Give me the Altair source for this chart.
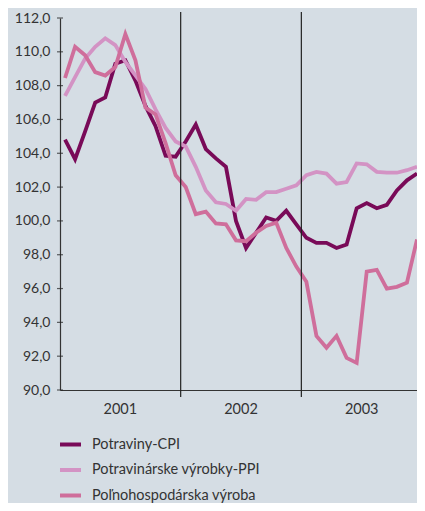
import altair as alt
import pandas as pd

# ---- data -------------------------------------------------------------
series_names = ["Potraviny-CPI", "Potravinárske výrobky-PPI", "Poľnohospodárska výroba"]
series_colors = ["#790a58", "#d393c4", "#cf6e9b"]
cpi = [104.8, 103.65, 105.3, 107.0, 107.3, 109.3, 109.5, 108.3, 106.8, 105.6, 103.85, 103.8,
       104.7, 105.7, 104.25, 103.7, 103.2, 100.0, 98.4, 99.3, 100.2, 100.0, 100.6, 99.8,
       99.0, 98.7, 98.7, 98.4, 98.6, 100.75, 101.05, 100.75, 100.95, 101.8, 102.4, 102.8]
ppi = [107.4, 108.5, 109.6, 110.3, 110.8, 110.4, 109.4, 108.6, 107.8, 106.6, 105.5, 104.7,
       104.4, 103.2, 101.8, 101.1, 101.0, 100.6, 101.3, 101.25, 101.7, 101.7, 101.9, 102.1,
       102.7, 102.9, 102.8, 102.2, 102.3, 103.4, 103.35, 102.9, 102.85, 102.85, 103.0, 103.2]
polno = [108.45, 110.3, 109.8, 108.8, 108.6, 109.1, 111.05, 109.5, 106.7, 106.3, 104.6, 102.7,
         102.0, 100.4, 100.55, 99.85, 99.8, 98.85, 98.8, 99.3, 99.7, 99.9, 98.4, 97.3,
         96.4, 93.2, 92.5, 93.2, 91.9, 91.6, 97.0, 97.1, 96.0, 96.1, 96.35, 98.9]
years = ["2001", "2002", "2003"]
year_bounds = [12, 24]
y_ticks = [90, 92, 94, 96, 98, 100, 102, 104, 106, 108, 110, 112]

# ---- tables -----------------------------------------------------------
rows = []
draw_order = {series_names[1]: 0, series_names[0]: 1, series_names[2]: 2}
for name, vals in zip(series_names, [cpi, ppi, polno]):
    for i, v in enumerate(vals):
        rows.append({"m": i + 0.5, "v": v, "s": name, "o": draw_order[name]})
df = pd.DataFrame(rows)
years_df = pd.DataFrame({"m": [12 * k + 6 for k in range(len(years))], "t": years})
bounds_df = pd.DataFrame({"m": year_bounds})
ticks_df = pd.DataFrame({"v": y_ticks})

W, H = 357, 372
FONT = "Lato"
TXT = "#333333"

xs = alt.Scale(domain=[0, 35.5], nice=False, zero=False)
ys = alt.Scale(domain=[90, 112], nice=False, zero=False)
x_axis = alt.Axis(title=None, labels=False, ticks=False, grid=False,
                  domainColor=TXT, domainWidth=1.2)
y_axis = alt.Axis(title=None, values=y_ticks, ticks=False, grid=False,
                  labelOverlap=False, labelBound=False, labelFlush=False,
                  labelExpr="replace(format(datum.value, '.1f'), '.', ',')",
                  labelFont=FONT, labelFontSize=14, labelColor=TXT,
                  labelPadding=10, domainColor=TXT, domainWidth=1.2)

lines = alt.Chart(df).mark_line(strokeWidth=3.8, strokeJoin="miter", clip=True).encode(
    x=alt.X("m:Q", scale=xs, axis=x_axis),
    y=alt.Y("v:Q", scale=ys, axis=y_axis),
    color=alt.Color("s:N", scale=alt.Scale(domain=series_names, range=series_colors),
                    legend=alt.Legend(orient="none", legendX=-2, legendY=414, title=None,
                                      symbolType="stroke", symbolStrokeWidth=4,
                                      symbolSize=440, labelFont=FONT, labelFontSize=14.5,
                                      labelColor=TXT, labelOffset=9, rowPadding=4.5,
                                      labelLimit=0, direction="vertical")),
    order=alt.Order("o:Q"),
    detail="s:N",
)

rules = alt.Chart(bounds_df).mark_rule(color="#222222", strokeWidth=1.2).encode(
    x=alt.X("m:Q", scale=xs, axis=x_axis),
    y=alt.value(-6),
    y2=alt.value(H + 7),
)

yticks = alt.Chart(ticks_df).mark_tick(color="#222222", size=6, thickness=1.2,
                                       orient="horizontal").encode(
    y=alt.Y("v:Q", scale=ys, axis=y_axis),
    x=alt.value(0),
)

year_text = alt.Chart(years_df).mark_text(font=FONT, fontSize=14.5, color=TXT,
                                          baseline="middle", align="center").encode(
    x=alt.X("m:Q", scale=xs, axis=x_axis),
    y=alt.value(H + 20),
    text="t:N",
)

chart = alt.layer(lines, rules, yticks, year_text).properties(
    width=W, height=H,
    autosize=alt.AutoSizeParams(type="none"),
    padding={"left": 52, "top": 10, "right": 0, "bottom": 113},
    background="#d5dde4",
).configure_view(stroke=None)

chart.save("out.html", embed_options={"renderer": "svg", "actions": False})
